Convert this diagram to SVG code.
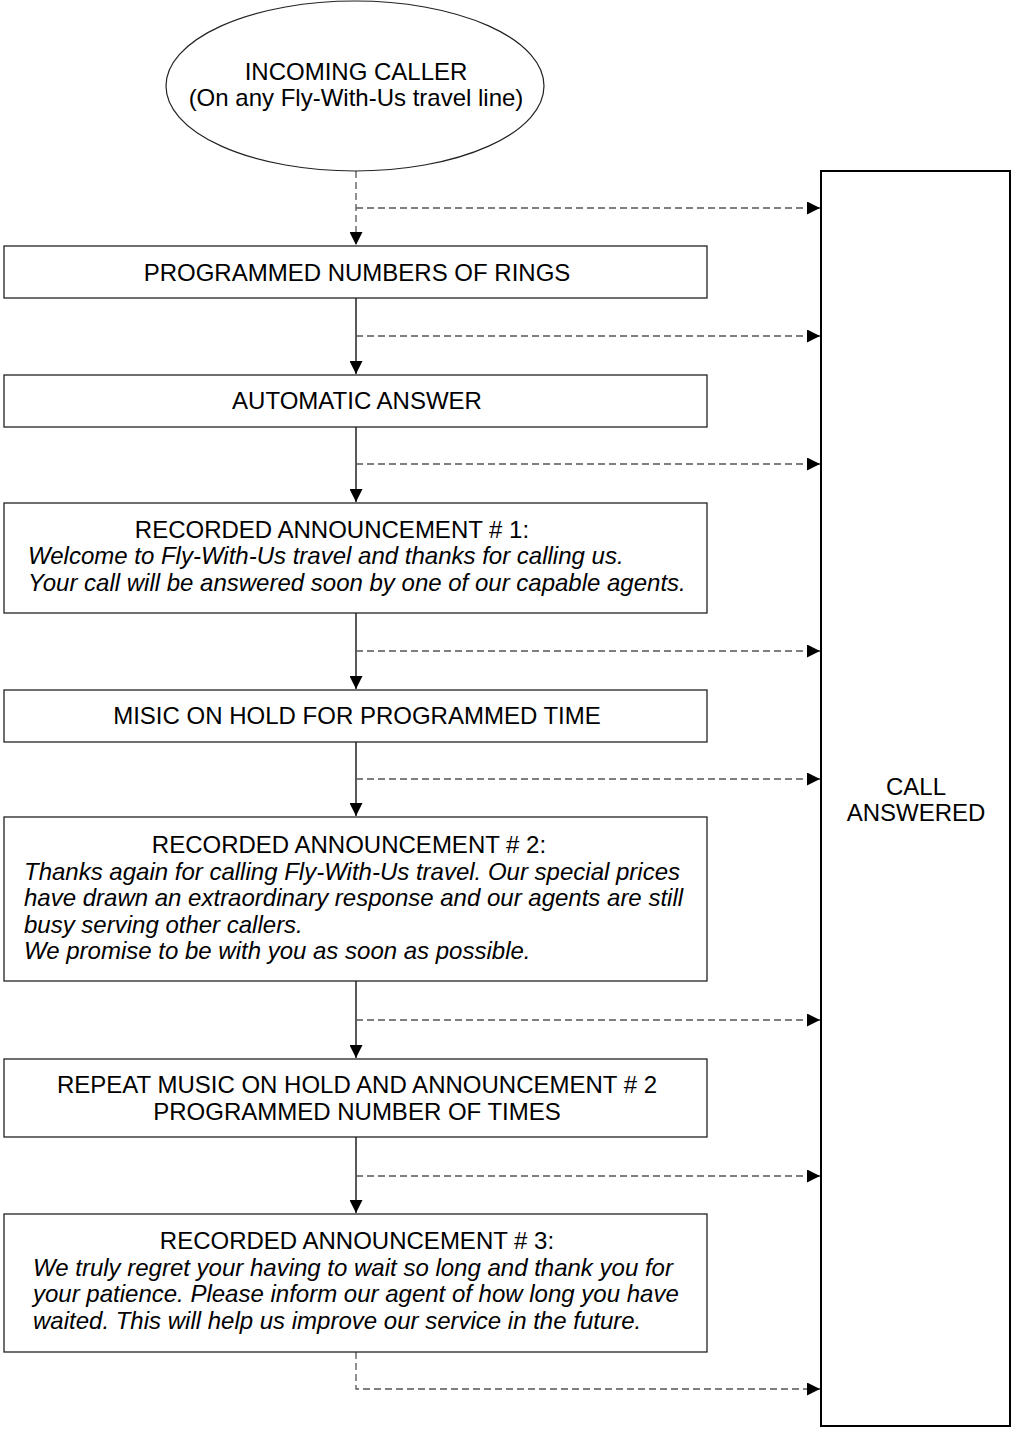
<svg xmlns="http://www.w3.org/2000/svg" width="1011" height="1429" viewBox="0 0 1011 1429">
<style>
.box{fill:#fff;stroke:#222;stroke-width:1.3}
.t{font-family:"Liberation Sans",Arial,sans-serif;font-size:24px;fill:#000}
.c{text-anchor:middle}
.i{font-style:italic}
.solid{stroke:#000;stroke-width:1.3;fill:none}
.dash{stroke:#555;stroke-width:1.3;fill:none;stroke-dasharray:7 4}
</style>
<defs>
<marker id="arr" viewBox="0 0 13 13" refX="13" refY="6.5" markerWidth="13" markerHeight="13" markerUnits="userSpaceOnUse" orient="auto">
<path d="M0,0 L13,6.5 L0,13 Z" fill="#000"/>
</marker>
</defs>
<rect width="1011" height="1429" fill="#fff"/>
<g id="connectors">
<line class="dash" x1="356" y1="171" x2="356" y2="245" marker-end="url(#arr)"/>
<line class="dash" x1="356" y1="208" x2="820" y2="208" marker-end="url(#arr)"/>
<line class="solid" x1="356" y1="298" x2="356" y2="374" marker-end="url(#arr)"/>
<line class="dash" x1="356" y1="336" x2="820" y2="336" marker-end="url(#arr)"/>
<line class="solid" x1="356" y1="427" x2="356" y2="502" marker-end="url(#arr)"/>
<line class="dash" x1="356" y1="464" x2="820" y2="464" marker-end="url(#arr)"/>
<line class="solid" x1="356" y1="613" x2="356" y2="689" marker-end="url(#arr)"/>
<line class="dash" x1="356" y1="651" x2="820" y2="651" marker-end="url(#arr)"/>
<line class="solid" x1="356" y1="742" x2="356" y2="816" marker-end="url(#arr)"/>
<line class="dash" x1="356" y1="779" x2="820" y2="779" marker-end="url(#arr)"/>
<line class="solid" x1="356" y1="981" x2="356" y2="1058" marker-end="url(#arr)"/>
<line class="dash" x1="356" y1="1020" x2="820" y2="1020" marker-end="url(#arr)"/>
<line class="solid" x1="356" y1="1137" x2="356" y2="1213" marker-end="url(#arr)"/>
<line class="dash" x1="356" y1="1176" x2="820" y2="1176" marker-end="url(#arr)"/>
<polyline class="dash" points="356,1352 356,1389 820,1389" marker-end="url(#arr)"/>
</g>
<g id="incoming">
<ellipse cx="355" cy="86" rx="189" ry="85" fill="#fff" stroke="#222" stroke-width="1.2"/>
<text class="t c" x="356" y="80">INCOMING CALLER</text>
<text class="t c" x="356" y="106">(On any Fly-With-Us travel line)</text>
</g>
<g id="rings">
<rect class="box" x="4" y="246" width="703" height="52"/>
<text class="t c" x="357" y="281">PROGRAMMED NUMBERS OF RINGS</text>
</g>
<g id="auto">
<rect class="box" x="4" y="375" width="703" height="52"/>
<text class="t c" x="357" y="409">AUTOMATIC ANSWER</text>
</g>
<g id="ann1">
<rect class="box" x="4" y="503" width="703" height="110"/>
<text class="t c" x="332" y="538">RECORDED ANNOUNCEMENT # 1:</text>
<text class="t i" x="28" y="564">Welcome to Fly-With-Us travel and thanks for calling us.</text>
<text class="t i" x="28" y="591">Your call will be answered soon by one of our capable agents.</text>
</g>
<g id="music">
<rect class="box" x="4" y="690" width="703" height="52"/>
<text class="t c" x="357" y="724">MISIC ON HOLD FOR PROGRAMMED TIME</text>
</g>
<g id="ann2">
<rect class="box" x="4" y="817" width="703" height="164"/>
<text class="t c" x="349" y="853">RECORDED ANNOUNCEMENT # 2:</text>
<text class="t i" x="24" y="880">Thanks again for calling Fly-With-Us travel. Our special prices</text>
<text class="t i" x="24" y="906">have drawn an extraordinary response and our agents are still</text>
<text class="t i" x="24" y="933">busy serving other callers.</text>
<text class="t i" x="24" y="959">We promise to be with you as soon as possible.</text>
</g>
<g id="repeat">
<rect class="box" x="4" y="1059" width="703" height="78"/>
<text class="t c" x="357" y="1093">REPEAT MUSIC ON HOLD AND ANNOUNCEMENT # 2</text>
<text class="t c" x="357" y="1120">PROGRAMMED NUMBER OF TIMES</text>
</g>
<g id="ann3">
<rect class="box" x="4" y="1214" width="703" height="138"/>
<text class="t c" x="357" y="1249">RECORDED ANNOUNCEMENT # 3:</text>
<text class="t i" x="33" y="1276">We truly regret your having to wait so long and thank you for</text>
<text class="t i" x="33" y="1302">your patience. Please inform our agent of how long you have</text>
<text class="t i" x="33" y="1329">waited. This will help us improve our service in the future.</text>
</g>
<g id="answered">
<rect x="821" y="171" width="189" height="1255" fill="#fff" stroke="#000" stroke-width="2"/>
<text class="t c" x="916" y="795">CALL</text>
<text class="t c" x="916" y="821">ANSWERED</text>
</g>
</svg>
